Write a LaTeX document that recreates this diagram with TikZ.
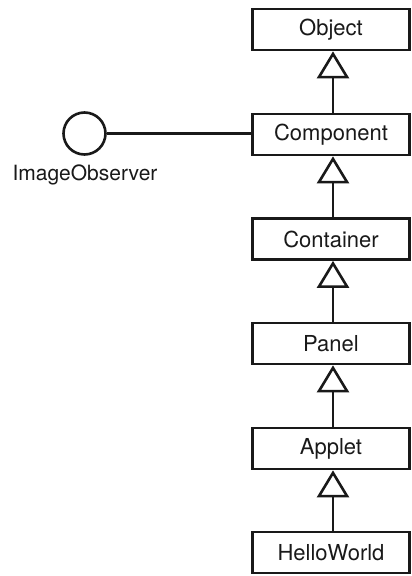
\documentclass[tikz,border=0pt]{standalone}
\usepackage{fontspec}
\setmainfont{TeX Gyre Heros}
\usetikzlibrary{arrows.meta}
\begin{document}
\begin{tikzpicture}[x=1pt,y=-1pt,
  cls/.style={draw=black!90, line width=2.7pt, minimum width=157pt, minimum height=41pt,
    inner sep=0pt, font=\fontsize{22}{25}\selectfont, text=black!90},
  inh/.style={line width=2.6pt, draw=black!90,
    -{Triangle[open, length=27pt, width=32pt, line width=2.6pt]}},
  iface/.style={draw=black!90, line width=2.6pt, circle, minimum size=42pt, inner sep=0pt},
  lbl/.style={font=\fontsize{21}{24}\selectfont, text=black!90, inner sep=0pt}]
\useasboundingbox (0,0) rectangle (412,576);
\node[cls] (obj) at (331,29.5) {Object};
\node[cls] (comp) at (331,134.5) {Component};
\node[cls] (cont) at (331,239) {Container};
\node[cls] (pan) at (331,343.5) {Panel};
\node[cls] (app) at (331,448.5) {Applet};
\node[cls] (hw) at (331,552.5) {HelloWorld};
\node[iface] (io) at (84.5,133.5) {};
\node[lbl, anchor=north] (iol) at (85,165) {ImageObserver};
\draw[line width=2.6pt, draw=black!90] (io.east) -- (io.east -| comp.west);
\draw[inh] ([xshift=2pt]comp.north) -- ([xshift=2pt]obj.south);
\draw[inh] ([xshift=2pt]cont.north) -- ([xshift=2pt]comp.south);
\draw[inh] ([xshift=2pt]pan.north) -- ([xshift=2pt]cont.south);
\draw[inh] ([xshift=2pt]app.north) -- ([xshift=2pt]pan.south);
\draw[inh] ([xshift=2pt]hw.north) -- ([xshift=2pt]app.south);
\end{tikzpicture}
\end{document}
